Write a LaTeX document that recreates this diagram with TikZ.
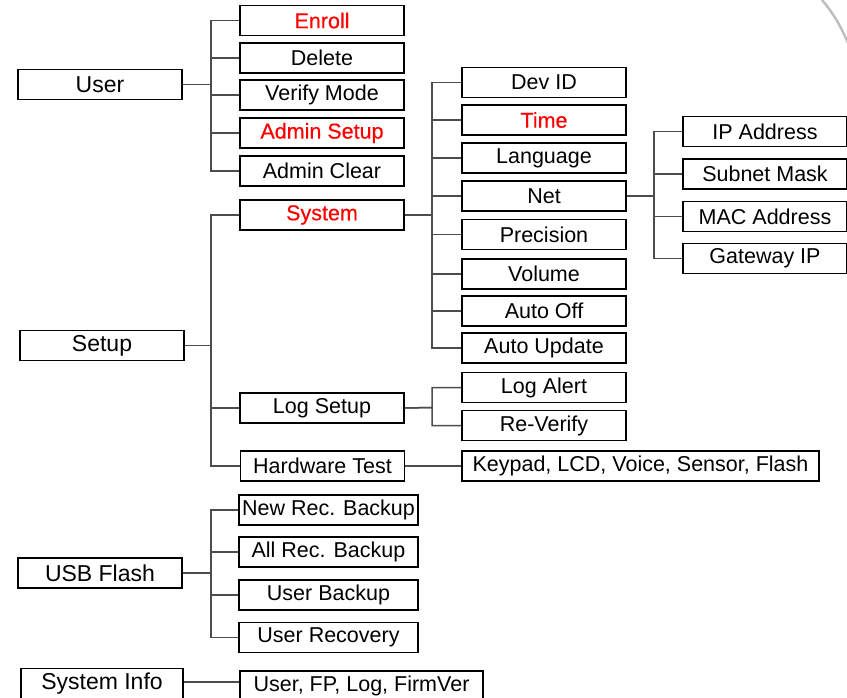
\documentclass[tikz,border=0pt]{standalone}
\usepackage{fontspec}
\setmainfont{Liberation Sans}
\newfontfamily\redfont[FakeBold=0.4]{Liberation Sans}

\tikzstyle{block} = [rectangle, draw, line width=1.4pt, minimum width=164pt, minimum height=30pt, inner sep=0pt, text centered, font=\fontsize{21.5}{24}\selectfont]
\tikzstyle{head} = [block, font=\fontsize{23}{26}\selectfont]
\tikzstyle{hot} = [text=red, font=\fontsize{21.5}{24}\redfont]
\tikzstyle{link} = [draw=black!70, line width=1.5pt]

\begin{document}
\begin{tikzpicture}[x=1pt, y=-1pt]
        \useasboundingbox (0,0) rectangle (847,697);
        % Top level menus
        \node (user) at (100,84.5) [head] {User};
        \node (setup) at (102,345.5) [head] {Setup};
        \node (usb) at (100,573) [head] {USB Flash};
        \node (sysinfo) at (102,683.5) [head, minimum width=162pt] {System Info};

        % User menu
        \node (enroll) at (322,20.5) [block, hot] {Enroll};
        \node (delete) at (322,58) [block] {Delete};
        \node (vmode) at (322,95) [block] {Verify Mode};
        \node (asetup) at (322,133) [block, hot] {Admin Setup};
        \node (aclear) at (322,171) [block] {Admin Clear};
        \coordinate (userbus) at (211,84.5);
        \foreach \c in {enroll,delete,vmode,asetup,aclear}
            \draw[link] (user.east) -- (userbus) |- (\c.west);

        % Setup menu
        \node (system) at (322,215) [block, hot] {System};
        \node (logsetup) at (322,408) [block] {Log Setup};
        \node (hwtest) at (322.5,466) [block] {Hardware Test};
        \coordinate (setupbus) at (211,345.5);
        \foreach \c in {system,logsetup,hwtest}
            \draw[link] (setup.east) -- (setupbus) |- (\c.west);

        % System submenu
        \node (devid) at (544,82.5) [block] {Dev ID};
        \node (time) at (544,120) [block, hot] {Time};
        \node (lang) at (544,158) [block] {Language};
        \node (net) at (544,196) [block] {Net};
        \node (prec) at (544,234.5) [block] {Precision};
        \node (volume) at (544,274) [block] {Volume};
        \node (autooff) at (544,311) [block] {Auto Off};
        \node (autoupd) at (544,348) [block] {Auto Update};
        \coordinate (sysbus) at (432,215);
        \foreach \c in {devid,time,lang,net,prec,volume,autooff,autoupd}
            \draw[link] (system.east) -- (sysbus) |- (\c.west);

        % Net submenu
        \node (ipaddr) at (765,131.5) [block] {IP Address};
        \node (subnet) at (765,174) [block] {Subnet Mask};
        \node (mac) at (765,216.5) [block] {MAC Address};
        \node (gateway) at (765,258.5) [block] {Gateway IP};
        \coordinate (netbus) at (654,196);
        \foreach \c in {ipaddr,subnet,mac,gateway}
            \draw[link] (net.east) -- (netbus) |- (\c.west);

        % Log submenu
        \node (logalert) at (544,387.5) [block] {Log Alert};
        \node (reverify) at (544,425.5) [block] {Re-Verify};
        \coordinate (logbus) at (432,407.5);
        \foreach \c in {logalert,reverify}
            \draw[link] (logsetup.east) -- (logbus) |- (\c.west);

        % Hardware test
        \node (keypad) at (640.5,466) [block, minimum width=357pt] {Keypad, LCD, Voice, Sensor, Flash};
        \draw[link] (hwtest) -- (keypad);

        % USB menu
        \node (newrec) at (328.5,510) [block, minimum width=179pt] {New Rec. Backup};
        \node (allrec) at (328.5,552) [block, minimum width=179pt] {All Rec. Backup};
        \node (ubackup) at (328.5,595) [block, minimum width=179pt] {User Backup};
        \node (urecov) at (328.5,637.5) [block, minimum width=179pt] {User Recovery};
        \coordinate (usbbus) at (211,573);
        \foreach \c in {newrec,allrec,ubackup,urecov}
            \draw[link] (usb.east) -- (usbbus) |- (\c.west);

        % System info
        \node (fpinfo) at (361.5,686) [block, minimum width=243pt] {User, FP, Log, FirmVer};
        \draw[link] (sysinfo.east |- 0,682) -- (fpinfo.west |- 0,682);

        % page edge arc
        \draw[black!25, line width=2.5pt] (822,0) .. controls (834,14) and (842,28) .. (850,48);
\end{tikzpicture}
\end{document}
